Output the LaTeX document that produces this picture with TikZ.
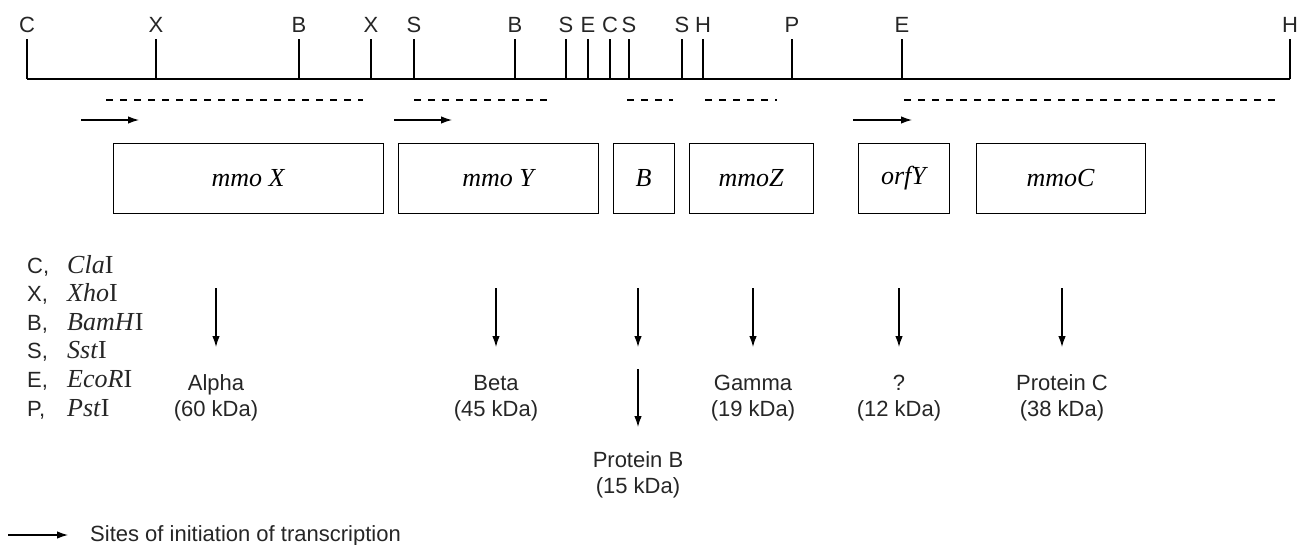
\documentclass[tikz,border=0pt]{standalone}
\usepackage{fontspec}
\setmainfont{Liberation Sans}
\newfontfamily\serifit{Liberation Serif}
\usetikzlibrary{arrows.meta}
\begin{document}
\begin{tikzpicture}[x=1pt,y=-1pt,
  lbl/.style={font=\fontsize{22}{24}\selectfont, text=black!85, inner sep=0pt},
  enz/.style={font=\serifit\fontsize{26}{28}\selectfont, text=black!85, inner sep=0pt},
  gene/.style={draw, line width=1pt, font=\serifit\itshape\fontsize{26}{28}\selectfont, inner sep=0pt, minimum height=70pt},
  dashline/.style={line width=1.2pt, dash pattern=on 7pt off 7pt},
  arr/.style={line width=1.2pt, -{Latex[length=11pt,width=7.5pt]}},
  tick/.style={line width=1.3pt},
]
\useasboundingbox (0,0) rectangle (1300,544);

% restriction map
\coordinate (m0) at (27,79);
\coordinate (m1) at (1290,79);
\draw[line width=1.5pt] (m0) -- (m1);
\foreach \x/\l/\n in {27/C/1,156/X/2,299/B/3,371/X/4,414/S/5,515/B/6,566/S/7,588/E/8,610/C/9,629/S/10,682/S/11,703/H/12,792/P/13,902/E/14,1290/H/15}{
  \coordinate (t\n) at (\x,39);
  \coordinate (b\n) at (\x,79);
  \draw[tick] (t\n) -- (b\n);
  \node[lbl, anchor=base] (l\n) at (\x,32) {\l};
}

% dashed regions
\foreach \a/\b/\n in {106/363/1,414/554/2,627/673/3,705/777/4,904/1282/5}{
  \coordinate (d\n s) at (\a,100);
  \coordinate (d\n e) at (\b,100);
  \draw[dashline] (d\n s) -- (d\n e);
}

% transcription start arrows
\foreach \a/\b/\n in {81/139/1,394/452/2,853/912/3}{
  \coordinate (p\n s) at (\a,120);
  \coordinate (p\n e) at (\b,120);
  \draw[arr] (p\n s) -- (p\n e);
}

% genes
\node[gene, minimum width=270pt] (gX) at (248,178) {mmo X};
\node[gene, minimum width=200pt] (gY) at (498,178) {mmo Y};
\node[gene, minimum width=61pt] (gB) at (643.5,178) {B};
\node[gene, minimum width=124pt] (gZ) at (751,178) {mmoZ};
\node[gene, minimum width=91pt] (gO) at (903.5,178) {orfY};
\node[gene, minimum width=169pt] (gC) at (1060.5,178) {mmoC};

% product arrows and labels
\foreach \x/\t/\m/\n in {216/Alpha/60/1,496/Beta/45/2,753/Gamma/19/3,899/?/12/4,1062/Protein C/38/5}{
  \coordinate (q\n s) at (\x,288);
  \coordinate (q\n e) at (\x,347);
  \draw[arr] (q\n s) -- (q\n e);
  \node[lbl, anchor=base] (n\n) at (\x,390) {\t};
  \node[lbl, anchor=base] (k\n) at (\x,416) {(\m\ kDa)};
}
\coordinate (qBs) at (638,288);
\coordinate (qBe) at (638,347);
\draw[arr] (qBs) -- (qBe);
\coordinate (rBs) at (638,369);
\coordinate (rBe) at (638,427);
\draw[arr] (rBs) -- (rBe);
\node[lbl, anchor=base] (nB) at (638,467) {Protein B};
\node[lbl, anchor=base] (kB) at (638,493) {(15 kDa)};

% enzyme legend
\foreach \l/\it/\n [count=\i from 0] in {C/Cla/1,X/Xho/2,B/BamH/3,S/Sst/4,E/EcoR/5,P/Pst/6}{
  \node[lbl, anchor=base west] (e\n) at (27,{273+28.6*\i}) {\l,};
  \node[enz, anchor=base west] (f\n) at (67,{273+28.6*\i}) {\textit{\it}I};
}

% transcription legend
\coordinate (ls) at (8,535);
\coordinate (le) at (68,535);
\draw[arr] (ls) -- (le);
\node[lbl, anchor=base west] (lt) at (90,541) {Sites of initiation of transcription};
\end{tikzpicture}
\end{document}
